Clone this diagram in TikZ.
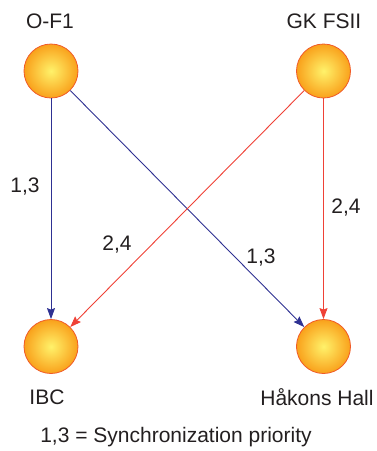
\documentclass[tikz,border=0pt]{standalone}
\usepackage{fontspec}
\setmainfont{Liberation Sans}
\usetikzlibrary{arrows.meta}
\definecolor{ballin}{HTML}{FFF26A}
\definecolor{ballout}{HTML}{F9A11B}
\definecolor{ballrim}{HTML}{F05A28}
\definecolor{linkblue}{HTML}{2E3192}
\definecolor{linkred}{HTML}{EF4136}
\definecolor{txt}{HTML}{231F20}
\tikzset{
  ball/.style={circle, minimum size=54pt, inner sep=0pt, draw=ballrim, line width=0.8pt, inner color=ballin, outer color=ballout},
  lbl/.style={font=\fontsize{21pt}{25pt}\selectfont, text=txt, inner sep=0pt},
  link/.style={line width=0.9pt, -{Stealth[length=11pt, width=8pt, inset=1.5pt]}},
  bluelink/.style={link, draw=linkblue, color=linkblue},
  redlink/.style={link, draw=linkred, color=linkred}
}
\begin{document}
\begin{tikzpicture}[x=1pt, y=-1pt]
\useasboundingbox (0,0) rectangle (377,451);
\node[ball] (of1) at (51,71) {};
\node[ball] (gk) at (323.5,71) {};
\node[ball] (ibc) at (51,346.5) {};
\node[ball] (hh) at (323.5,346.5) {};
\node[lbl] (tof1) at (50,21) {O-F1};
\node[lbl] (tgk) at (324,21) {GK FSII};
\node[lbl] (tibc) at (47,397) {IBC};
\node[lbl] (thh) at (317,397) {Håkons Hall};
\draw[bluelink] (of1) -- (ibc);
\draw[bluelink] (of1) -- (hh);
\draw[redlink] (gk) -- (ibc);
\draw[redlink] (gk) -- (hh);
\node[lbl] (l1) at (25,187) {1,3};
\node[lbl] (l2) at (346,208) {2,4};
\node[lbl] (l3) at (117,245) {2,4};
\node[lbl] (l4) at (261,258) {1,3};
\node[lbl] (leg) at (176,437) {1,3 = Synchronization priority};
\end{tikzpicture}
\end{document}
